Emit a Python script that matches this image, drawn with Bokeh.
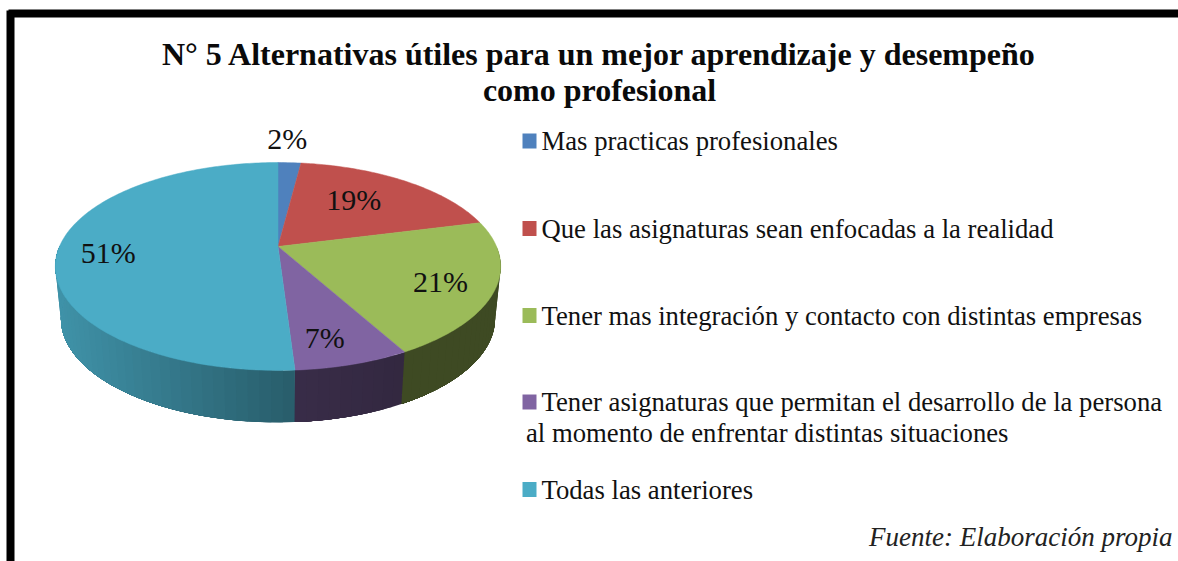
import math
from bokeh.plotting import figure
from bokeh.embed import file_html
from bokeh.resources import INLINE
from bokeh.core.properties import value

TITLE = ["N° 5 Alternativas útiles para un mejor aprendizaje y desempeño", "como profesional"]
categories = [
    "Mas practicas profesionales",
    "Que las asignaturas sean enfocadas a la realidad",
    "Tener mas integración y contacto con distintas empresas",
    "Tener asignaturas que permitan el desarrollo de la persona\nal momento de enfrentar distintas situaciones",
    "Todas las anteriores",
]
percent = [2, 19, 21, 7, 51]
colors = ["#4F81BD", "#C0504D", "#9BBB59", "#8064A2", "#4BACC6"]
SOURCE = "Fuente: Elaboración propia"

FONT = value("Liberation Serif")
W, H = 1178, 561
p = figure(width=W, height=H, x_range=(0, W), y_range=(H, 0),
           toolbar_location=None, output_backend="svg", min_border=0,
           background_fill_color="white", border_fill_color="white", outline_line_color=None)
p.axis.visible = False
p.grid.visible = False

# frame
p.quad(left=[6], right=[14], top=[10], bottom=[600], fill_color="black", line_color=None)
p.quad(left=[8], right=[1200], top=[9], bottom=[17], fill_color="black", line_color=None)

# 3D pie: perspective projection of a disc
CX, CY, A, B, K = 277.5, 246.0, 218.5, 100.1, 0.192
DEPTH, SHRINK = 52.0, 0.975


def rim(t):
    w = 1 + K * math.cos(t)
    return A * math.sin(t) / w, -B * math.cos(t) / w


def shade(col, f):
    r, g, b = (int(col[i:i + 2], 16) for i in (1, 3, 5))
    return "#%02x%02x%02x" % (int(r * f), int(g * f), int(b * f))


total = sum(percent)
edges = [0.0]
for v in percent:
    edges.append(edges[-1] + v / total * 2 * math.pi)

# walls (front half only): overlapping strips for the fade
STRIP = math.radians(2.5)
for i, col in enumerate(colors):
    a0, a1 = max(edges[i], math.pi / 2), min(edges[i + 1], 3 * math.pi / 2)
    if a1 <= a0:
        continue
    n = max(1, int((a1 - a0) / STRIP))
    for k in range(n):
        t0 = a0 + (a1 - a0) * k / n
        # each strip reaches to the slice's far end, so later strips overpaint without seams
        ts = [t0 + (a1 - t0) * q / 30 for q in range(31)]
        pts = [rim(t) for t in ts]
        xs = [CX + x for x, _ in pts] + [CX + x * SHRINK for x, _ in reversed(pts)]
        ys = [CY + y for _, y in pts] + [CY + y + DEPTH for _, y in reversed(pts)]
        x0 = pts[0][0]
        if i == 4:
            f = 0.85 - 0.30 * max(0, min(1, (x0 + 218) / 235))
        elif i == 3:
            f = 0.40 + 0.05 * k / n
        else:
            f = 0.40
        c = shade(col, f)
        p.patch(xs, ys, fill_color=c, line_color=None)

# top faces
for i, col in enumerate(colors):
    n = max(2, int((edges[i + 1] - edges[i]) / math.radians(1)))
    xs, ys = [CX], [CY]
    for k in range(n + 1):
        x, y = rim(edges[i] + (edges[i + 1] - edges[i]) * k / n)
        xs.append(CX + x)
        ys.append(CY + y)
    p.patch(xs, ys, fill_color=col, line_color=col, line_width=0.5)

# data labels along each slice's mid-angle, with small nudges
LABEL_R = [1.27, 0.62, 0.76, 0.66, 0.77]
LABEL_DX = [-5.5, -2.5, -2.5, -2.5, -0.5]
LABEL_DY = [-2, -6, 2, 13, 4]
for i, v in enumerate(percent):
    mid = (edges[i] + edges[i + 1]) / 2
    x, y = rim(mid)
    p.text([CX + x * LABEL_R[i] + LABEL_DX[i]], [CY + y * LABEL_R[i] + LABEL_DY[i]], text=[f"{v}%"],
           text_font=FONT, text_font_size="30px", text_color="#111111", text_align="center",
           text_baseline="middle")

# title
for line, y in zip(TITLE, [53, 89]):
    p.text([599], [y], text=[line], text_font=FONT, text_font_style="bold", text_font_size="32px",
           text_color="#0a0a0a", text_align="center", text_baseline="middle")

# legend
LEG_Y = [140.5, 228, 315, 401.5, 489]
LINE_GAP = 31
for cat, col, y in zip(categories, colors, LEG_Y):
    p.quad(left=[522], right=[536], top=[y - 7.5], bottom=[y + 7.5], fill_color=col, line_color=None)
    for j, part in enumerate(cat.split("\n")):
        x = 541 if j == 0 else 525.5
        p.text([x], [y + j * LINE_GAP], text=[part], text_font=FONT, text_font_size="26.7px",
               text_color="#111111", text_align="left", text_baseline="middle")

p.text([1172], [536], text=[SOURCE], text_font=FONT, text_font_style="italic", text_font_size="27px",
       text_color="#222222", text_align="right", text_baseline="middle")

open("out.html", "w").write(file_html(p, INLINE))
